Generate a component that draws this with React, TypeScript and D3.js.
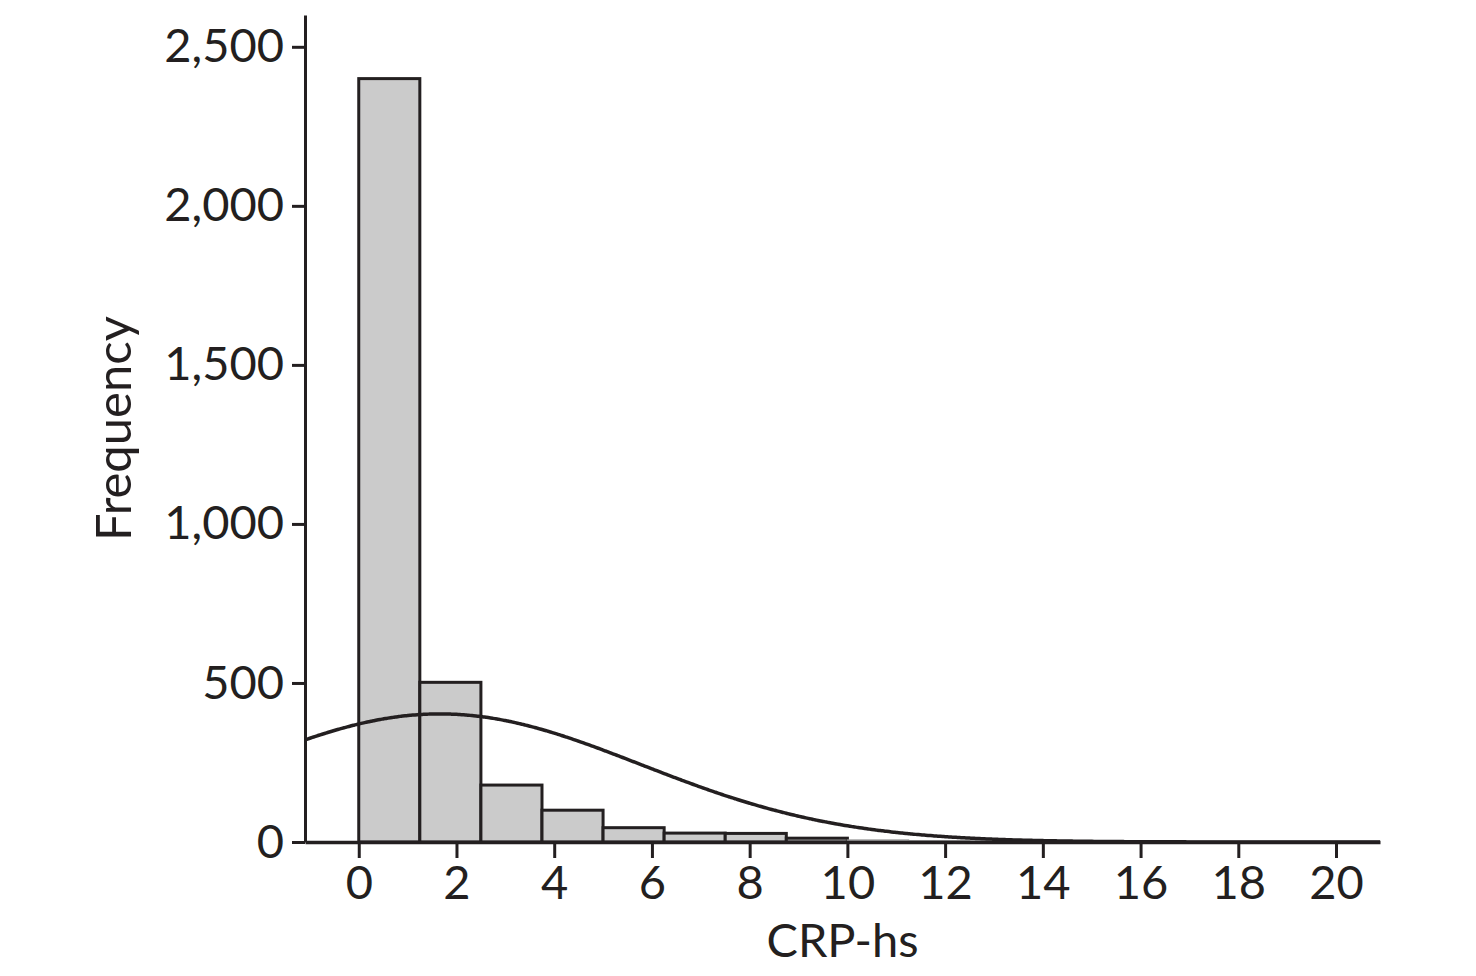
import { useEffect, useRef } from "react";
import * as d3 from "d3";

// histogram bins (CRP-hs), width 1.25
const binStarts = [0, 1.25, 2.5, 3.75, 5, 6.25, 7.5, 8.75, 10, 11.25, 12.5, 13.75, 15, 16.25];
const binCounts = [2400, 502, 179, 100, 45, 28, 27, 12, 6, 4, 3, 2, 2, 1];
const binWidth = 1.25;

// fitted normal curve parameters
const curveMean = 1.66;
const curveSd = 4.1;

const xTicks = [0, 2, 4, 6, 8, 10, 12, 14, 16, 18, 20];
const yTicks = [0, 500, 1000, 1500, 2000, 2500];

const FONT = "Lato, 'Open Sans', sans-serif";

export default function App() {
  const svgRef = useRef<SVGSVGElement>(null);

  useEffect(() => {
    if (!svgRef.current) return;
    const svg = d3.select(svgRef.current);
    svg.selectAll("*").remove();

    const width = 1476;
    const height = 976;
    const left = 305;
    const right = 1380;
    const top = 15;
    const bottom = 842;

    svg.attr("width", width).attr("height", height);

    const x = d3.scaleLinear().domain([-1.1, 20.9]).range([left, right]);
    const y = d3.scaleLinear().domain([0, 2600]).range([bottom, top]);

    const ink = "#231f20";

    // bars
    svg
      .append("g")
      .selectAll("rect")
      .data(binStarts.map((s, i) => ({ s, c: binCounts[i] })))
      .join("rect")
      .attr("x", (d) => x(d.s))
      .attr("y", (d) => y(d.c))
      .attr("width", (d) => x(d.s + binWidth) - x(d.s))
      .attr("height", (d) => bottom - y(d.c))
      .attr("fill", "#cbcbcb")
      .attr("stroke", (d) => (d.c < 10 ? "#9a9a9a" : ink))
      .attr("stroke-width", (d) => (d.c < 10 ? 1.5 : 3));

    // normal curve
    const total = d3.sum(binCounts);
    const density = (v: number) =>
      (total * binWidth) / (curveSd * Math.sqrt(2 * Math.PI)) *
      Math.exp(-0.5 * ((v - curveMean) / curveSd) ** 2);
    const pts = d3.range(-1.1, 20.9 + 0.001, 0.05);
    const line = d3
      .line<number>()
      .x((v) => x(v))
      .y((v) => y(density(v)))
      .curve(d3.curveBasis);
    svg
      .append("path")
      .attr("d", line(pts) as string)
      .attr("fill", "none")
      .attr("stroke", ink)
      .attr("stroke-width", 3.5);

    // x axis
    const xAxis = svg
      .append("g")
      .attr("transform", `translate(0, ${bottom})`)
      .call(d3.axisBottom(x).tickValues(xTicks).tickSize(16).tickSizeOuter(0).tickPadding(8));
    xAxis.select(".domain").attr("stroke", ink).attr("stroke-width", 3.5);
    xAxis.selectAll(".tick line").attr("stroke", ink).attr("stroke-width", 3);
    xAxis
      .selectAll(".tick text")
      .attr("fill", ink)
      .attr("font-family", FONT)
      .attr("font-size", "47px");

    // y axis
    const yAxis = svg
      .append("g")
      .attr("transform", `translate(${left}, 0)`)
      .call(
        d3.axisLeft(y).tickValues(yTicks).tickSize(13).tickSizeOuter(0).tickPadding(8)
          .tickFormat(d3.format(","))
      );
    yAxis.select(".domain").attr("stroke", ink).attr("stroke-width", 3);
    yAxis.selectAll(".tick line").attr("stroke", ink).attr("stroke-width", 3);
    yAxis
      .selectAll(".tick text")
      .attr("fill", ink)
      .attr("font-family", FONT)
      .attr("font-size", "47px");

    // axis titles
    svg
      .append("text")
      .attr("x", (left + right) / 2)
      .attr("y", 957)
      .attr("text-anchor", "middle")
      .attr("fill", ink)
      .attr("font-family", FONT)
      .attr("font-size", "47px")
      .text("CRP-hs");

    svg
      .append("text")
      .attr("transform", `translate(131, ${(top + bottom) / 2}) rotate(-90)`)
      .attr("text-anchor", "middle")
      .attr("fill", ink)
      .attr("font-family", FONT)
      .attr("font-size", "49px")
      .text("Frequency");
  }, []);

  return (
    <div style={{ position: "absolute", top: 0, left: 0, background: "#fff" }}>
      <svg ref={svgRef} style={{ display: "block" }} />
    </div>
  );
}
